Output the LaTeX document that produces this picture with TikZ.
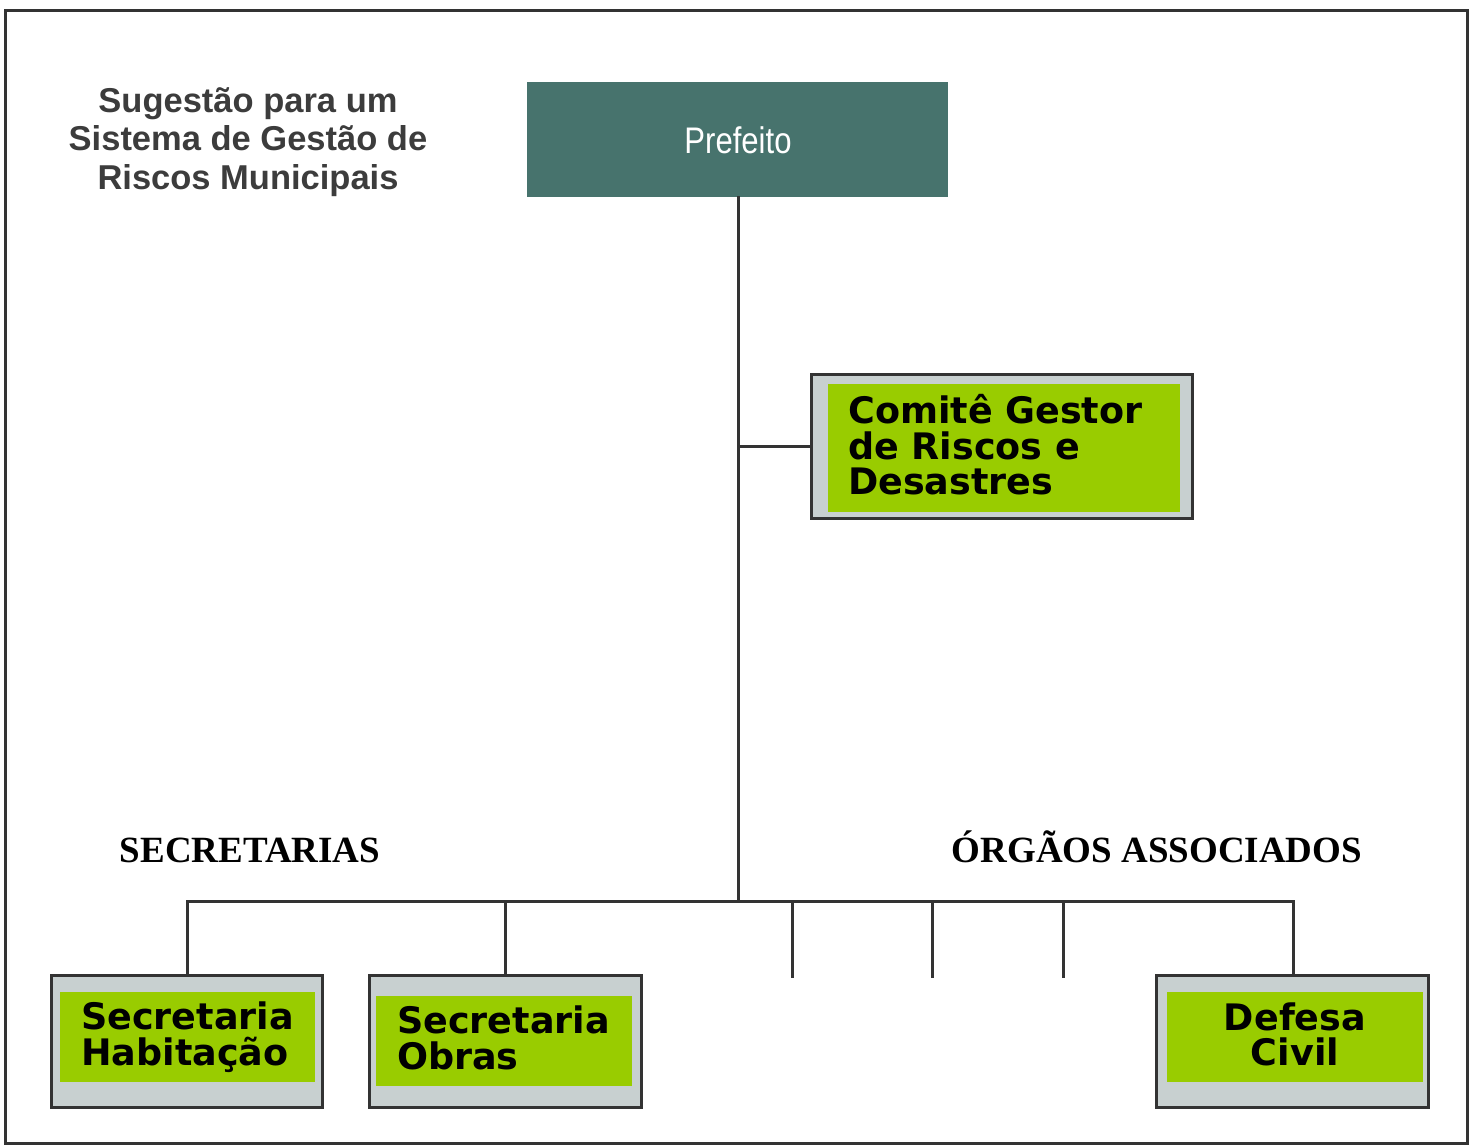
\documentclass[tikz,border=0pt]{standalone}
\usepackage{fontspec}
\setmainfont{Liberation Serif}
\newfontfamily\boxfont{DejaVu Sans}
\newfontfamily\arialfont{Liberation Sans}
\newfontfamily\narrowfont[FakeStretch=0.84]{Liberation Sans}
\definecolor{framegray}{HTML}{333333}
\definecolor{tealbox}{HTML}{47736D}
\definecolor{greenbox}{HTML}{99CC00}
\definecolor{graybox}{HTML}{C8D0D0}
\definecolor{titlegray}{HTML}{3C3C3C}
\begin{document}
\begin{tikzpicture}[x=1pt,y=-1pt,
  conn/.style={draw=framegray,line width=3pt,line cap=rect},
  outerbox/.style={draw=framegray,line width=3pt,fill=graybox,rectangle,inner sep=0pt},
  greenfill/.style={fill=greenbox,draw=none,rectangle,inner sep=0pt},
  boxtext/.style={font=\boxfont\bfseries\fontsize{36.5}{35.5}\selectfont,inner sep=0pt,text=black},
  grouplabel/.style={font=\bfseries\fontsize{37}{40}\selectfont,inner sep=0pt,text=black}
]
\useasboundingbox (0,0) rectangle (1470,1146);
\fill[white] (0,0) rectangle (1470,1146);
\draw[framegray,line width=3pt] (5,10) rectangle (1467,1143);

% title
\node[font=\arialfont\bfseries\fontsize{34.5}{38.5}\selectfont,text=titlegray,align=center,inner sep=0pt] (title) at (248,142)
  {Sugestão para um\\Sistema de Gestão de\\Riscos Municipais};

% Prefeito
\node[rectangle,fill=tealbox,minimum width=421pt,minimum height=115pt,inner sep=0pt] (pref) at (737.5,139.5) {};
\node[font=\narrowfont\fontsize{37}{40}\selectfont,text=white,inner sep=0pt] (preft) at (738,140) {Prefeito};

% Comite
\node[outerbox,minimum width=381pt,minimum height=144pt] (comite) at (1001.5,446) {};
\node[greenfill,minimum width=352pt,minimum height=128pt] (comiteg) at (1004,448) {};
\node[boxtext,align=left,anchor=west] (comitet) at (848,445) {Comitê Gestor\\de Riscos e\\Desastres};

% Secretaria Habitacao
\node[outerbox,minimum width=271pt,minimum height=132pt] (hab) at (187,1041) {};
\node[greenfill,minimum width=255pt,minimum height=90pt] (habg) at (187.5,1037) {};
\node[boxtext,align=left,anchor=west] (habt) at (81,1037) {Secretaria\\Habitação};

% Secretaria Obras
\node[outerbox,minimum width=272pt,minimum height=132pt] (obr) at (505,1041) {};
\node[greenfill,minimum width=256pt,minimum height=90pt] (obrg) at (504,1041) {};
\node[boxtext,align=left,anchor=west] (obrt) at (397,1038) {Secretaria\\Obras};

% Defesa Civil
\node[outerbox,minimum width=272pt,minimum height=132pt] (def) at (1292,1041) {};
\node[greenfill,minimum width=256pt,minimum height=90pt] (defg) at (1295,1037) {};
\node[boxtext,align=center] (deft) at (1295,1034.5) {Defesa\\Civil};

% group labels
\node[grouplabel,anchor=base] (seclbl) at (250,862) {SECRETARIAS};
\node[grouplabel,anchor=base] (orglbl) at (1157,862) {ÓRGÃOS ASSOCIADOS};

% connectors
\coordinate (bus) at (738,901);
\coordinate (busL) at (187,901);
\coordinate (busR) at (1293,901);
\coordinate (s1) at (792,901);
\coordinate (s1e) at (792,976);
\coordinate (s2) at (932,901);
\coordinate (s2e) at (932,976);
\coordinate (s3) at (1063,901);
\coordinate (s3e) at (1063,976);
\coordinate (tcom) at (738,446);

\draw[conn] (pref.south -| bus) -- (bus);
\draw[conn] (tcom) -- (comite.west);
\draw[conn] (busL) -- (busR);
\draw[conn] (busL) -- (hab.north);
\draw[conn] (505,901) -- (obr.north);
\draw[conn] (busR) -- (busR |- def.north);
\draw[conn] (s1) -- (s1e);
\draw[conn] (s2) -- (s2e);
\draw[conn] (s3) -- (s3e);
\end{tikzpicture}
\end{document}
